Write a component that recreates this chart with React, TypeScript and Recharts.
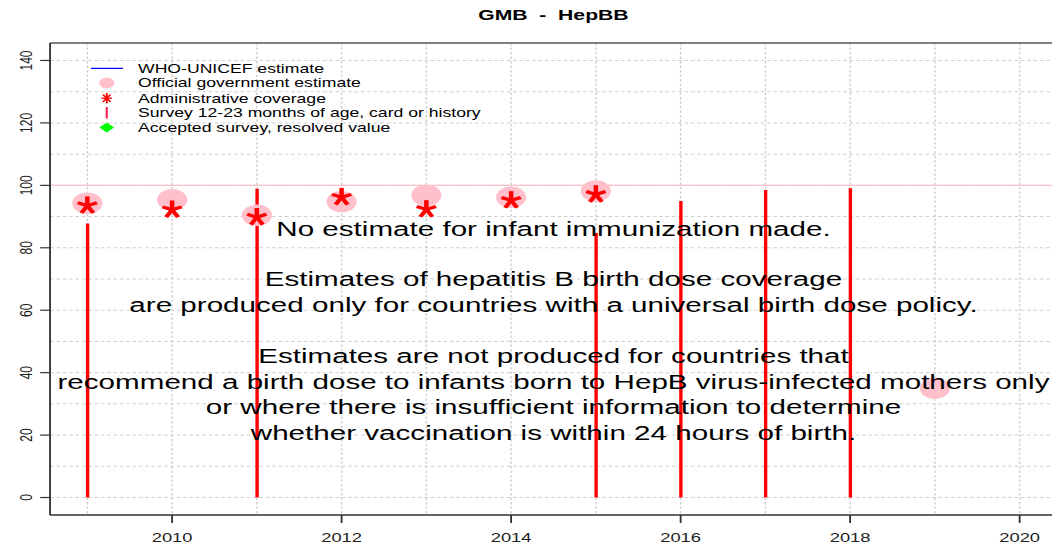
import React from 'react';
import { ComposedChart, XAxis, YAxis, Bar, Scatter, ReferenceLine, CartesianGrid } from 'recharts';

// ---- data ----
const surveyYears = [2009, 2011, 2015, 2016, 2017, 2018];
const surveyValues = [87.8, 98.9, 84.7, 95.0, 98.5, 99.1];
const officialYears = [2009, 2010, 2011, 2012, 2013, 2014, 2015, 2019];
const officialValues = [94.3, 95.4, 90.4, 94.8, 96.8, 96.2, 98.2, 35.0];
const adminYears = [2009, 2010, 2011, 2012, 2013, 2014, 2015];
const adminValues = [93.5, 92.2, 89.8, 96.2, 92.3, 95.2, 97.1];
const xTicks = [2010, 2012, 2014, 2016, 2018, 2020];
const yTicks = [0, 20, 40, 60, 80, 100, 120, 140];
const gridYears = [2009, 2010, 2011, 2012, 2013, 2014, 2015, 2016, 2017, 2018, 2019, 2020];
const gridValues = [0, 10, 20, 30, 40, 50, 60, 70, 80, 90, 100, 110, 120, 130, 140];
const noteLines = [
  'No estimate for infant immunization made.',
  'Estimates of hepatitis B birth dose coverage',
  'are produced only for countries with a universal birth dose policy.',
  'Estimates are not produced for countries that',
  'recommend a birth dose to infants born to HepB virus-infected mothers only',
  'or where there is insufficient information to determine',
  'whether vaccination is within 24 hours of birth.',
];
const noteValues = [83.9, 67.6, 59.4, 43.0, 34.9, 26.7, 18.5];
const legendLabels = [
  'WHO-UNICEF estimate',
  'Official government estimate',
  'Administrative coverage',
  'Survey 12-23 months of age, card or history',
  'Accepted survey, resolved value',
];
const titleText = 'GMB  -  HepBB';
const X_DOMAIN: [number, number] = [2008.56, 2020.44];
const Y_DOMAIN: [number, number] = [-5.6, 145.6];

// ---- built tables ----
const surveyRows = surveyYears.map((y, i) => ({ year: y, survey: surveyValues[i] }));
const officialRows = officialYears.map((y, i) => ({ year: y, value: officialValues[i] }));
const adminRows = adminYears.map((y, i) => ({ year: y, value: adminValues[i] }));
const noteRows = noteLines.map((t, i) => ({ year: (X_DOMAIN[0] + X_DOMAIN[1]) / 2, value: noteValues[i], text: t }));

const SX = 1.41;
const W = 760;
const H = 548;
const FONT = '"Liberation Sans", Arial, Helvetica, sans-serif';

const Asterisk = (props: any) => {
  const { cx, cy } = props;
  if (cx == null || cy == null) return null;
  const angles = [90, 162, 234, 306, 18];
  return (
    <g>
      {angles.map((a) => {
        const r = (a * Math.PI) / 180;
        return (
          <line key={a} x1={cx} y1={cy} x2={cx + 7.2 * Math.cos(r)} y2={cy - 9.2 * Math.sin(r)} stroke="#ff0000" strokeWidth={3.2} />
        );
      })}
    </g>
  );
};

const Dot = (props: any) => {
  const { cx, cy } = props;
  if (cx == null || cy == null) return null;
  return <circle cx={cx} cy={cy} r={10.7} fill="#ffc0cb" />;
};

const NoteText = (props: any) => {
  const { cx, cy, payload } = props;
  if (cx == null || cy == null) return null;
  return (
    <text x={cx} y={cy} textAnchor="middle" fontSize={21} fill="#000" fontFamily={FONT}>
      {payload.text}
    </text>
  );
};

const YTick = (props: any) => {
  const { x, y, payload } = props;
  return (
    <text x={x} y={y} transform={`rotate(-90, ${x}, ${y})`} textAnchor="middle" fontSize={12} fill="#222" fontFamily={FONT}>
      {payload.value}
    </text>
  );
};

const XTick = (props: any) => {
  const { x, y, payload } = props;
  return (
    <text x={x} y={y + 19.5} textAnchor="middle" fontSize={13} fill="#222" fontFamily={FONT}>
      {payload.value}
    </text>
  );
};

const Overlay = () => {
  const sx = 75.7;
  const tx = 97.9;
  const rows = [68.3, 83, 98.2, 113, 127.5];
  const star8 = [0, 45, 90, 135, 180, 225, 270, 315];
  return (
    <svg width={W} height={H} style={{ position: 'absolute', left: 0, top: 0, pointerEvents: 'none' }}>
      <text x={392.5} y={20} textAnchor="middle" fontSize={15} fontWeight="bold" fill="#000" fontFamily={FONT} style={{ whiteSpace: 'pre' }} xmlSpace="preserve">
        {titleText}
      </text>
      <line x1={64.5} x2={87.2} y1={rows[0]} y2={rows[0]} stroke="#0000ff" strokeWidth={1.2} />
      <circle cx={sx} cy={rows[1]} r={5.4} fill="#ffc0cb" />
      <g>
        {star8.map((a) => {
          const r = (a * Math.PI) / 180;
          return (
            <line key={a} x1={sx} y1={rows[2]} x2={sx + 3.8 * Math.cos(r)} y2={rows[2] - 5.2 * Math.sin(r)} stroke="#ff0000" strokeWidth={1.3} />
          );
        })}
      </g>
      <line x1={sx} x2={sx} y1={rows[3] - 6} y2={rows[3] + 5.5} stroke="#ff2050" strokeWidth={1.5} />
      <polygon points={`${sx},${rows[4] - 5} ${sx + 5.2},${rows[4]} ${sx},${rows[4] + 5} ${sx - 5.2},${rows[4]}`} fill="#00ff00" />
      {legendLabels.map((l, i) => (
        <text key={l} x={tx} y={rows[i] + 4.5} fontSize={12.5} fill="#000" fontFamily={FONT}>
          {l}
        </text>
      ))}
    </svg>
  );
};

export default function App() {
  return (
    <div style={{ position: 'absolute', left: 0, top: 0, width: 1052, height: 548, overflow: 'hidden', background: '#fff' }}>
      <div style={{ position: 'relative', width: W, height: H, transform: `scaleX(${SX})`, transformOrigin: '0 0', fontFamily: FONT }}>
        <ComposedChart width={W} height={H} data={surveyRows} margin={{ top: 43, right: 10.4, bottom: 0, left: 0 }}>
          <CartesianGrid
            horizontalValues={gridValues}
            verticalValues={gridYears}
            stroke="#cfcfcf"
            strokeDasharray="2.5 2"
            strokeWidth={1}
          />
          <XAxis
            dataKey="year"
            type="number"
            domain={X_DOMAIN}
            allowDataOverflow
            ticks={xTicks}
            height={33}
            tickSize={8}
            tickMargin={0}
            tick={<XTick />}
            axisLine={{ stroke: '#333', strokeWidth: 1.4 }}
            tickLine={{ stroke: '#333', strokeWidth: 1.3 }}
          />
          <YAxis
            type="number"
            domain={Y_DOMAIN}
            allowDataOverflow
            ticks={yTicks}
            width={35.5}
            tickSize={7}
            tickMargin={5.5}
            tick={<YTick />}
            axisLine={{ stroke: '#222', strokeWidth: 1.2 }}
            tickLine={{ stroke: '#333', strokeWidth: 1.2 }}
          />
          <ReferenceLine y={100} stroke="#ffc0cb" strokeWidth={1.2} ifOverflow="visible" />
          <ReferenceLine y={Y_DOMAIN[1]} stroke="#808080" strokeWidth={2} ifOverflow="visible" />
          <Scatter data={officialRows} dataKey="value" shape={<Dot />} isAnimationActive={false} />
          <Bar dataKey="survey" fill="#ff0000" barSize={2.4} isAnimationActive={false} />
          <Scatter data={adminRows} dataKey="value" shape={<Asterisk />} isAnimationActive={false} />
          <Scatter data={noteRows} dataKey="value" shape={<NoteText />} isAnimationActive={false} />
        </ComposedChart>
        <Overlay />
      </div>
    </div>
  );
}
